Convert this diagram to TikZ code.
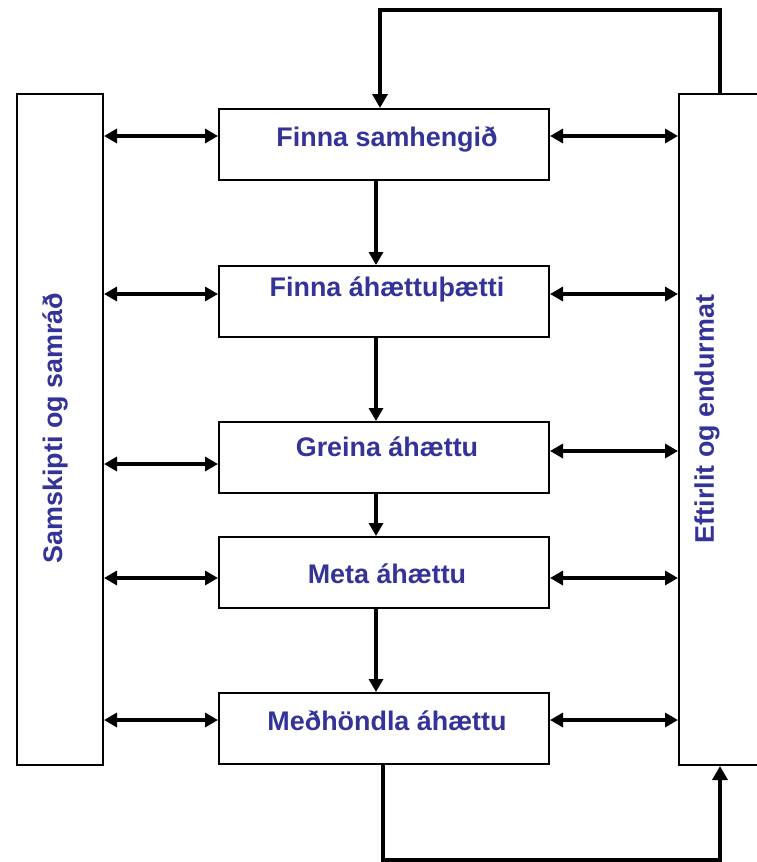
\documentclass[tikz,border=0pt]{standalone}
\usepackage{fontspec}
\setmainfont{Liberation Sans}
\usetikzlibrary{arrows.meta}
\definecolor{txt}{HTML}{333399}
\begin{document}
\begin{tikzpicture}[x=1bp,y=-1bp,
  box/.style={draw=black,line width=2bp,fill=white,inner sep=0pt},
  lbl/.style={text=txt,font=\bfseries\fontsize{27}{30}\selectfont,inner sep=0pt},
  link/.style={line width=3.5bp,{Triangle[length=13bp,width=14bp]}-{Triangle[length=13bp,width=14bp]}},
  flow/.style={line width=3.5bp,-{Triangle[length=13bp,width=14bp]}},
  loop/.style={line width=4.5bp,-{Triangle[length=14bp,width=15bp]}}]
\useasboundingbox (0,0) rectangle (757,862);
% side boxes
\node[box,minimum width=86bp,minimum height=671bp,anchor=north west] (L) at (16,93) {};
\node[box,minimum width=100bp,minimum height=671bp,anchor=north west] (R) at (678,93) {};
\node[lbl,rotate=90] (Ltxt) at (55,428) {Samskipti og samráð};
\node[lbl,rotate=90] (Rtxt) at (707,419) {Eftirlit og endurmat};
% centre boxes
\node[box,minimum width=330bp,minimum height=71bp,anchor=north west] (b1) at (218,108) {};
\node[box,minimum width=330bp,minimum height=71bp,anchor=north west] (b2) at (218,265) {};
\node[box,minimum width=330bp,minimum height=71bp,anchor=north west] (b3) at (218,421) {};
\node[box,minimum width=330bp,minimum height=71bp,anchor=north west] (b4) at (218,536) {};
\node[box,minimum width=330bp,minimum height=71bp,anchor=north west] (b5) at (218,692) {};
\node[lbl] (t1) at (387,139) {Finna samhengið};
\node[lbl] (t2) at (387,289) {Finna áhættuþætti};
\node[lbl] (t3) at (387,447) {Greina áhættu};
\node[lbl] (t4) at (387,574) {Meta áhættu};
\node[lbl] (t5) at (387,721) {Meðhöndla áhættu};
% left links
\draw[link] (L.east |- 0,136) -- (b1.west |- 0,136);
\draw[link] (L.east |- 0,294) -- (b2.west |- 0,294);
\draw[link] (L.east |- 0,464) -- (b3.west |- 0,464);
\draw[link] (L.east |- 0,578) -- (b4.west |- 0,578);
\draw[link] (L.east |- 0,720) -- (b5.west |- 0,720);
% right links
\draw[link] (b1.east |- 0,136) -- (R.west |- 0,136);
\draw[link] (b2.east |- 0,294) -- (R.west |- 0,294);
\draw[link] (b3.east |- 0,451) -- (R.west |- 0,451);
\draw[link] (b4.east |- 0,578) -- (R.west |- 0,578);
\draw[link] (b5.east |- 0,720) -- (R.west |- 0,720);
% flow
\draw[flow] (b1.south -| 376,0) -- (b2.north -| 376,0);
\draw[flow] (b2.south -| 376,0) -- (b3.north -| 376,0);
\draw[flow] (b3.south -| 376,0) -- (b4.north -| 376,0);
\draw[flow] (b4.south -| 376,0) -- (b5.north -| 376,0);
% loops
\coordinate (tr) at (720,10);
\coordinate (tl) at (380,10);
\draw[loop] (R.north -| 720,0) -- (tr) -- (tl) -- (b1.north -| 380,0);
\coordinate (bl) at (383,860);
\coordinate (br) at (720,860);
\draw[loop] (b5.south -| 383,0) -- (bl) -- (br) -- (R.south -| 720,0);
\end{tikzpicture}
\end{document}
